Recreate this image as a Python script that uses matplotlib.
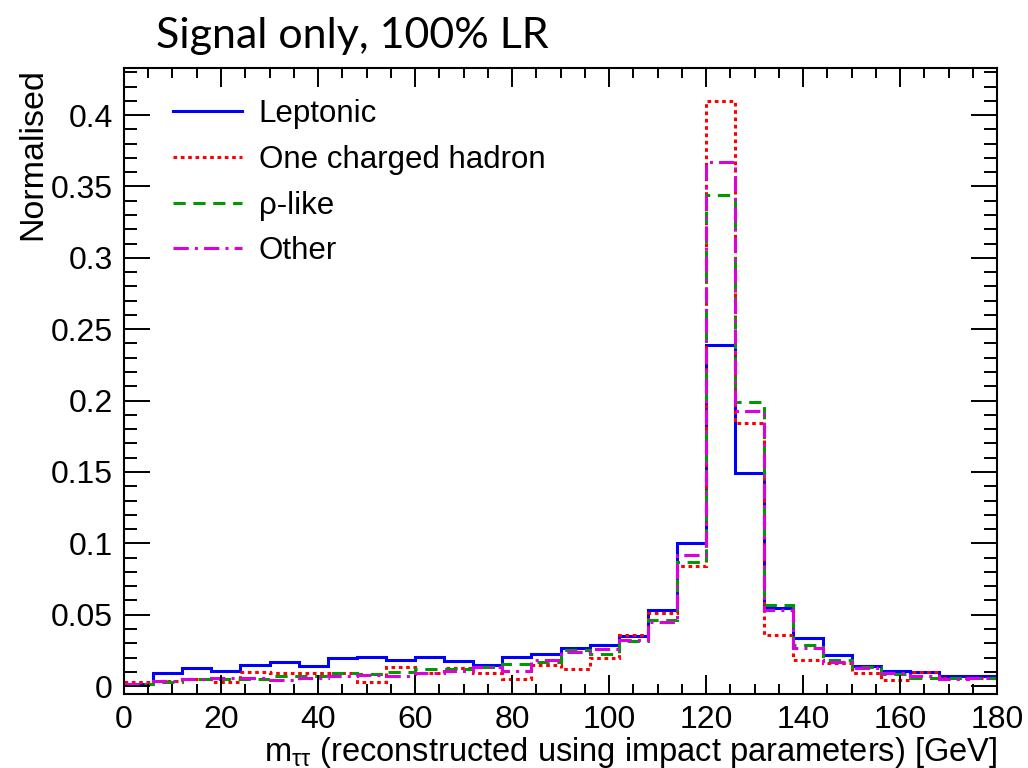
import matplotlib

matplotlib.use("Agg")
import matplotlib.pyplot as plt
import numpy as np
from matplotlib.lines import Line2D
from matplotlib.ticker import MultipleLocator

# m_tautau bins, 6 GeV wide, 0 - 180 GeV
bin_edges = np.arange(0, 181, 6)

leptonic = [0.0015, 0.0090, 0.0126, 0.0107, 0.0150, 0.0166, 0.0142, 0.0194, 0.0206, 0.0180,
            0.0205, 0.0177, 0.0147, 0.0205, 0.0224, 0.0270, 0.0289, 0.0352, 0.0534, 0.1000,
            0.2390, 0.1490, 0.0550, 0.0336, 0.0217, 0.0142, 0.0107, 0.0098, 0.0068, 0.0068]
one_charged = [0.0026, 0.0037, 0.0049, 0.0026, 0.0096, 0.0091, 0.0093, 0.0095, 0.0026, 0.0135,
               0.0089, 0.0124, 0.0089, 0.0050, 0.0145, 0.0119, 0.0194, 0.0357, 0.0510, 0.0840,
               0.4100, 0.1840, 0.0360, 0.0185, 0.0160, 0.0091, 0.0042, 0.0096, 0.0060, 0.0060]
rho_like = [0.0014, 0.0026, 0.0049, 0.0049, 0.0050, 0.0072, 0.0072, 0.0091, 0.0084, 0.0096,
            0.0119, 0.0119, 0.0131, 0.0157, 0.0166, 0.0252, 0.0224, 0.0313, 0.0462, 0.0870,
            0.3440, 0.1990, 0.0570, 0.0287, 0.0184, 0.0135, 0.0084, 0.0060, 0.0056, 0.0056]
other = [0.0018, 0.0037, 0.0049, 0.0054, 0.0054, 0.0044, 0.0060, 0.0072, 0.0077, 0.0068,
         0.0089, 0.0107, 0.0131, 0.0107, 0.0185, 0.0236, 0.0259, 0.0320, 0.0450, 0.0916,
         0.3670, 0.1930, 0.0535, 0.0270, 0.0170, 0.0130, 0.0091, 0.0072, 0.0049, 0.0054]

labels = ["Leptonic", "One charged hadron", "ρ-like", "Other"]

plt.rcParams["font.family"] = ["Liberation Sans", "DejaVu Sans"]
plt.rcParams["mathtext.fontset"] = "custom"
plt.rcParams["mathtext.rm"] = "Liberation Sans"
plt.rcParams["mathtext.it"] = "Liberation Sans"

fig = plt.figure(figsize=(10.28, 7.68), dpi=100)
ax = fig.add_axes([0.1206, 0.0964, 0.8494, 0.8151])

styles = [
    dict(color="#0000ff", linestyle="-", linewidth=2.2),
    dict(color="#ff0000", linestyle=(0, (1.2, 1.2)), linewidth=2.2),
    dict(color="#009a00", linestyle=(0, (4, 2.5)), linewidth=2.2),
    dict(color="#dd00dd", linestyle=(0, (5, 2, 1, 2)), linewidth=2.2),
]
series = [leptonic, one_charged, rho_like, other]
for vals, st in zip(series, styles):
    ax.stairs(vals, bin_edges, baseline=None, **st)

ax.set_xlim(0, 180)
ax.set_ylim(-0.0055, 0.433)

ax.xaxis.set_major_locator(MultipleLocator(20))
ax.xaxis.set_minor_locator(MultipleLocator(5))
ax.yaxis.set_major_locator(MultipleLocator(0.05))
ax.yaxis.set_minor_locator(MultipleLocator(0.01))
ax.yaxis.set_major_formatter(matplotlib.ticker.FuncFormatter(lambda v, _: f"{v:g}"))

ax.tick_params(which="both", direction="in", top=True, right=True, width=1.4,
               labelsize=23)
ax.tick_params(axis="x", which="major", length=14, pad=8)
ax.tick_params(axis="x", which="minor", length=7)
ax.tick_params(axis="y", which="major", length=19, pad=8)
ax.tick_params(axis="y", which="minor", length=9.5)
for sp in ax.spines.values():
    sp.set_linewidth(1.5)

ax.set_xlabel(r"$\mathrm{m}_{\tau\tau}$ (reconstructed using impact parameters) [GeV]",
              fontsize=23.5, ha="right", va="center")
ax.xaxis.set_label_coords(1.0, -0.093)
fig.text(33 / 1028, 1 - 68 / 768, "Normalised", rotation=90, ha="center", va="top",
         fontsize=24.5)

handles = [Line2D([], [], **st) for st in styles]
ax.legend(handles, labels, loc="upper left", bbox_to_anchor=(0.056, 0.95),
          frameon=False, fontsize=22.5, handlelength=2.2, handletextpad=0.55,
          labelspacing=0.5, borderaxespad=0, borderpad=0)

fig.text(352 / 1028, 1 - 36 / 768, "Signal only, 100% LR", ha="center", va="center",
         fontsize=31, family=["Lato", "DejaVu Sans"])

fig.savefig("out.png", dpi=100)
